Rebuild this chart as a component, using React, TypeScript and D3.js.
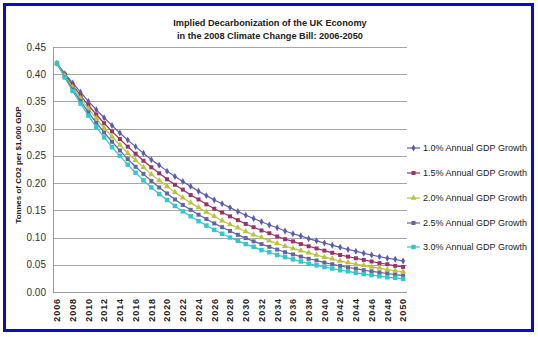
import React from "react";
import * as d3 from "d3";

const years: number[] = [
  2006, 2007, 2008, 2009, 2010, 2011, 2012, 2013, 2014, 2015, 2016, 2017, 2018, 2019, 2020,
  2021, 2022, 2023, 2024, 2025, 2026, 2027, 2028, 2029, 2030, 2031, 2032, 2033, 2034, 2035,
  2036, 2037, 2038, 2039, 2040, 2041, 2042, 2043, 2044, 2045, 2046, 2047, 2048, 2049, 2050,
];

const growth10: number[] = [
  0.42, 0.401, 0.384, 0.367, 0.35, 0.335, 0.32, 0.306, 0.292, 0.279, 0.267, 0.255, 0.243, 0.233, 0.222,
  0.212, 0.203, 0.194, 0.185, 0.177, 0.169, 0.162, 0.155, 0.148, 0.141, 0.135, 0.129, 0.123, 0.118, 0.112,
  0.107, 0.103, 0.098, 0.094, 0.09, 0.086, 0.082, 0.078, 0.075, 0.071, 0.068, 0.065, 0.062, 0.06, 0.057,
];
const growth15: number[] = [
  0.42, 0.399, 0.38, 0.361, 0.343, 0.326, 0.31, 0.295, 0.281, 0.267, 0.254, 0.241, 0.229, 0.218, 0.207,
  0.197, 0.188, 0.178, 0.17, 0.161, 0.153, 0.146, 0.139, 0.132, 0.125, 0.119, 0.113, 0.108, 0.102, 0.097,
  0.093, 0.088, 0.084, 0.08, 0.076, 0.072, 0.068, 0.065, 0.062, 0.059, 0.056, 0.053, 0.051, 0.048, 0.046,
];
const growth20: number[] = [
  0.42, 0.397, 0.376, 0.356, 0.337, 0.319, 0.301, 0.285, 0.27, 0.255, 0.242, 0.229, 0.216, 0.205, 0.194,
  0.183, 0.173, 0.164, 0.155, 0.147, 0.139, 0.131, 0.124, 0.118, 0.111, 0.105, 0.1, 0.094, 0.089, 0.084,
  0.08, 0.076, 0.072, 0.068, 0.064, 0.061, 0.057, 0.054, 0.051, 0.049, 0.046, 0.044, 0.041, 0.039, 0.037,
];
const growth25: number[] = [
  0.42, 0.395, 0.372, 0.351, 0.33, 0.311, 0.293, 0.276, 0.26, 0.244, 0.23, 0.217, 0.204, 0.192, 0.181,
  0.17, 0.16, 0.151, 0.142, 0.134, 0.126, 0.119, 0.112, 0.105, 0.099, 0.093, 0.088, 0.083, 0.078, 0.073,
  0.069, 0.065, 0.061, 0.058, 0.054, 0.051, 0.048, 0.045, 0.043, 0.04, 0.038, 0.036, 0.034, 0.032, 0.03,
];
const growth30: number[] = [
  0.42, 0.394, 0.369, 0.346, 0.324, 0.303, 0.284, 0.266, 0.25, 0.234, 0.219, 0.205, 0.192, 0.18, 0.169,
  0.158, 0.148, 0.139, 0.13, 0.122, 0.114, 0.107, 0.1, 0.094, 0.088, 0.083, 0.077, 0.073, 0.068, 0.064,
  0.06, 0.056, 0.052, 0.049, 0.046, 0.043, 0.04, 0.038, 0.035, 0.033, 0.031, 0.029, 0.027, 0.026, 0.024,
];

const seriesNames: string[] = [
  "1.0% Annual GDP Growth",
  "1.5% Annual GDP Growth",
  "2.0% Annual GDP Growth",
  "2.5% Annual GDP Growth",
  "3.0% Annual GDP Growth",
];
const seriesValues: number[][] = [growth10, growth15, growth20, growth25, growth30];
const seriesColors: string[] = ["#5a5ea8", "#993366", "#b9c43c", "#6464a0", "#33c6cc"];
const yTicks: number[] = [0, 0.05, 0.1, 0.15, 0.2, 0.25, 0.3, 0.35, 0.4, 0.45];
const titleLines: string[] = [
  "Implied Decarbonization of the UK Economy",
  "in the 2008 Climate Change Bill: 2006-2050",
];
const yAxisTitle = "Tonnes of CO2 per $1,000 GDP";

const W = 538;
const H = 337;
const plot = { left: 53, right: 407, top: 47, bottom: 292 };
const FONT = "'Liberation Sans', Arial, sans-serif";

const symbolTypes = [d3.symbolDiamond, d3.symbolSquare, d3.symbolTriangle, d3.symbolSquare, d3.symbolSquare];
const symbolSizes = [14, 16, 16, 16, 20];

export default function App() {
  const x = d3
    .scaleBand<number>()
    .domain(years)
    .range([plot.left, plot.right])
    .padding(0);
  const cx = (yr: number) => (x(yr) as number) + x.bandwidth() / 2;
  const y = d3.scaleLinear().domain([0, 0.45]).range([plot.bottom, plot.top]);

  const line = d3
    .line<number>()
    .x((_, i) => cx(years[i]))
    .y((v) => y(v));

  const legendRows = [148, 173, 198, 223, 247];

  return (
    <svg
      width={W}
      height={H}
      style={{ position: "fixed", left: 0, top: 0, background: "#fff" }}
      fontFamily={FONT}
    >
      <rect x={0} y={0} width={W} height={H} fill="#fff" />
      <rect x={4.5} y={4.5} width={528} height={326} fill="#fff" stroke="#0a0ad2" strokeWidth={3} />

      {titleLines.map((t, i) => (
        <text
          key={t}
          x={270}
          y={26 + i * 12.5}
          textAnchor="middle"
          fontSize={9.2}
          fontWeight="bold"
          fill="#222"
        >
          {t}
        </text>
      ))}

      {/* gridlines */}
      {yTicks.map((t) => (
        <line
          key={t}
          x1={plot.left}
          x2={plot.right}
          y1={Math.round(y(t)) + 0.5}
          y2={Math.round(y(t)) + 0.5}
          stroke={t === 0 ? "#999" : "#a6a6a6"}
          strokeWidth={1}
        />
      ))}
      <line x1={plot.left + 0.5} x2={plot.left + 0.5} y1={plot.top} y2={plot.bottom} stroke="#999" />

      {/* y tick labels */}
      {yTicks.map((t) => (
        <text
          key={"l" + t}
          x={46}
          y={y(t) + 3.5}
          textAnchor="end"
          fontSize={10}
          fill="#333"
        >
          {t.toFixed(2)}
        </text>
      ))}

      {/* x tick labels */}
      {years
        .filter((_, i) => i % 2 === 0)
        .map((yr) => (
          <text
            key={yr}
            transform={`translate(${cx(yr) + 3.3},298) rotate(-90)`}
            textAnchor="end"
            fontSize={9}
            fontWeight="bold"
            letterSpacing={0.9}
            fill="#222"
          >
            {yr}
          </text>
        ))}

      <text
        transform={`translate(20.5,165) rotate(-90)`}
        textAnchor="middle"
        fontSize={8}
        fontWeight="bold"
        fill="#222"
      >
        {yAxisTitle}
      </text>

      {/* series */}
      {seriesValues.map((vals, si) => {
        const sym = d3.symbol().type(symbolTypes[si]).size(symbolSizes[si])();
        return (
          <g key={si}>
            <path d={line(vals) || ""} fill="none" stroke={seriesColors[si]} strokeWidth={1.2} />
            {vals.map((v, i) => (
              <path
                key={i}
                d={sym || ""}
                transform={`translate(${cx(years[i])},${y(v)})`}
                fill={seriesColors[si]}
              />
            ))}
          </g>
        );
      })}

      {/* legend */}
      {seriesNames.map((name, si) => {
        const sym = d3.symbol().type(symbolTypes[si]).size(symbolSizes[si])();
        const ly = legendRows[si];
        return (
          <g key={name}>
            <line x1={407} x2={420} y1={ly} y2={ly} stroke={seriesColors[si]} strokeWidth={1.2} />
            <path d={sym || ""} transform={`translate(413.5,${ly})`} fill={seriesColors[si]} />
            <text x={423} y={ly + 3.3} fontSize={9} fill="#222">
              {name}
            </text>
          </g>
        );
      })}
    </svg>
  );
}
